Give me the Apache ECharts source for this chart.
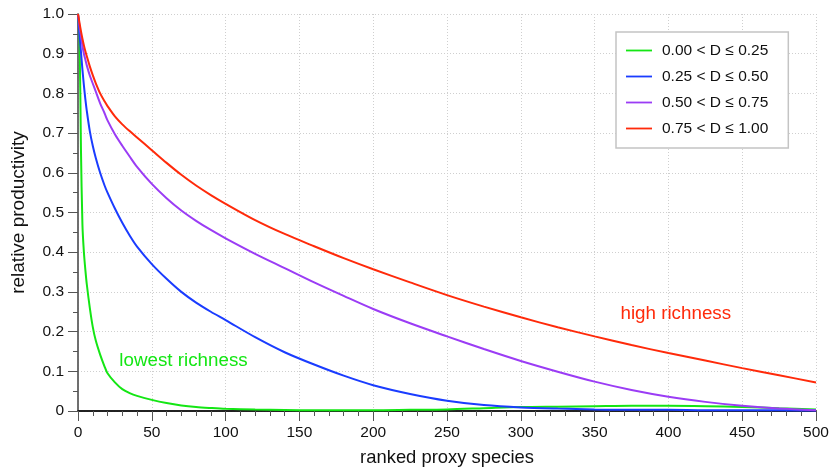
<!DOCTYPE html>
<html><head><meta charset="utf-8">
<script src="https://cdn.jsdelivr.net/npm/echarts@6/dist/echarts.min.js"></script>
<style>html,body{margin:0;padding:0;background:#fff}#c{width:830px;height:470px}</style>
</head><body><div id="c"></div>
<script>
const xValues = [0,1,2,3,4,5,6,8,10,12,15,18,20,25,30,35,40,50,60,70,80,90,100,120,140,160,180,200,225,250,275,300,325,350,375,400,425,450,475,500];
const greenY = [1.0,0.95,0.66,0.47,0.40,0.355,0.318,0.26,0.212,0.178,0.142,0.112,0.095,0.072,0.055,0.045,0.038,0.028,0.020,0.014,0.010,0.0075,0.0055,0.0035,0.0025,0.002,0.002,0.002,0.003,0.004,0.007,0.010,0.011,0.012,0.013,0.013,0.012,0.010,0.007,0.004];
const blueY = [1.0,0.95,0.905,0.86,0.82,0.785,0.755,0.705,0.668,0.638,0.60,0.568,0.55,0.51,0.474,0.442,0.414,0.37,0.333,0.30,0.273,0.25,0.229,0.186,0.148,0.117,0.089,0.065,0.043,0.026,0.015,0.009,0.006,0.004,0.003,0.003,0.002,0.002,0.002,0.001];
const purpleY = [1.0,0.97,0.945,0.92,0.90,0.885,0.87,0.845,0.825,0.805,0.775,0.75,0.732,0.697,0.668,0.641,0.615,0.572,0.536,0.505,0.479,0.456,0.435,0.396,0.36,0.324,0.29,0.257,0.221,0.188,0.156,0.126,0.099,0.074,0.053,0.036,0.023,0.013,0.006,0.002];
const redY = [1.0,0.978,0.957,0.938,0.921,0.906,0.893,0.868,0.846,0.826,0.80,0.78,0.768,0.742,0.722,0.705,0.689,0.657,0.625,0.595,0.568,0.544,0.522,0.481,0.446,0.415,0.385,0.357,0.324,0.292,0.263,0.236,0.211,0.188,0.166,0.146,0.127,0.108,0.09,0.072];
const seriesNames = ['0.00 < D \u2264 0.25','0.25 < D \u2264 0.50','0.50 < D \u2264 0.75','0.75 < D \u2264 1.00'];
const seriesColors = ['#14e614','#1a3cff','#9b3cf5','#ff2a0a'];
const annotations = [
  {text:'lowest richness', x:71.5, y:0.126, series:0},
  {text:'high richness', x:405, y:0.245, series:3}
];

const FONT = 'Liberation Sans, Arial, Helvetica, sans-serif';
const chart = echarts.init(document.getElementById('c'), null, {renderer:'canvas'});
const allY = [greenY, blueY, purpleY, redY];
const series = allY.map((ys, i) => {
  const s = {
    name: seriesNames[i], type:'line', symbol:'none', showSymbol:false, smooth:0.3,
    data: xValues.map((x, k) => [x, ys[k]]),
    lineStyle:{color:seriesColors[i], width:2}, itemStyle:{color:seriesColors[i]},
    z: 3 + i
  };
  const ann = annotations.filter(a => a.series === i);
  if (ann.length) {
    s.markPoint = {
      symbol:'circle', symbolSize:1, itemStyle:{color:'rgba(0,0,0,0)'},
      silent:true,
      data: ann.map(a => ({coord:[a.x, a.y], value:a.text})),
      label:{show:true, position:'inside', formatter:p => p.value, color:seriesColors[i], fontSize:18.8, fontFamily:FONT}
    };
  }
  return s;
});

const splitStyle = {show:true, lineStyle:{color:'#cfcfcf', width:1, type:[1,2]}};
chart.setOption({
  animation:false,
  backgroundColor:'#fff',
  grid:{left:78, right:14, top:14, bottom:59, containLabel:false, outerBoundsMode:'none'},
  legend:{
    orient:'vertical', left:616, top:32,
    padding:[10.5,20,11.5,10], itemGap:10, itemWidth:26, itemHeight:16,
    backgroundColor:'#fff', borderColor:'#c4c4c4', borderWidth:1.5,
    textStyle:{fontSize:15.5, fontFamily:FONT, color:'#111', padding:[0,0,0,5]},
    data: seriesNames.map((n, i) => ({
      name:n, icon:'path://M0,7.1 L26,7.1 L26,8.9 L0,8.9 Z',
      itemStyle:{color:seriesColors[i]}
    }))
  },
  xAxis:[{
    type:'value', min:0, max:500, interval:50,
    name:'ranked proxy species', nameLocation:'middle', nameGap:38,
    nameTextStyle:{fontSize:18.4, fontFamily:FONT, color:'#111'},
    axisLine:{show:true, lineStyle:{color:'#666', width:1.5}},
    axisTick:{show:true, length:10, lineStyle:{color:'#555', width:1}},
    minorTick:{show:true, splitNumber:5, length:5, lineStyle:{color:'#555', width:1}},
    axisLabel:{fontSize:15.5, fontFamily:FONT, color:'#111', margin:14},
    splitLine:splitStyle
  },{
    type:'value', position:'top', min:0, max:500,
    axisLine:{show:true, lineStyle:{color:'#000', width:1.5}},
    axisTick:{show:false}, axisLabel:{show:false}, splitLine:{show:false}
  }],
  yAxis:[{
    type:'value', min:0, max:1, interval:0.1,
    name:'relative productivity', nameLocation:'middle', nameGap:50,
    nameTextStyle:{fontSize:19, fontFamily:FONT, color:'#111'},
    axisLine:{show:true, lineStyle:{color:'#666', width:1.5}},
    axisTick:{show:true, length:10, lineStyle:{color:'#555', width:1}},
    minorTick:{show:true, splitNumber:2, length:5, lineStyle:{color:'#555', width:1}},
    axisLabel:{fontSize:15.5, fontFamily:FONT, color:'#111', margin:14,
      formatter: v => v === 0 ? '0' : v.toFixed(1)},
    splitLine:splitStyle
  },{
    type:'value', position:'right', min:0, max:1,
    axisLine:{show:true, lineStyle:{color:'#666', width:1.5}},
    axisTick:{show:false}, axisLabel:{show:false}, splitLine:{show:false}
  }],
  series: series
});
</script></body></html>
